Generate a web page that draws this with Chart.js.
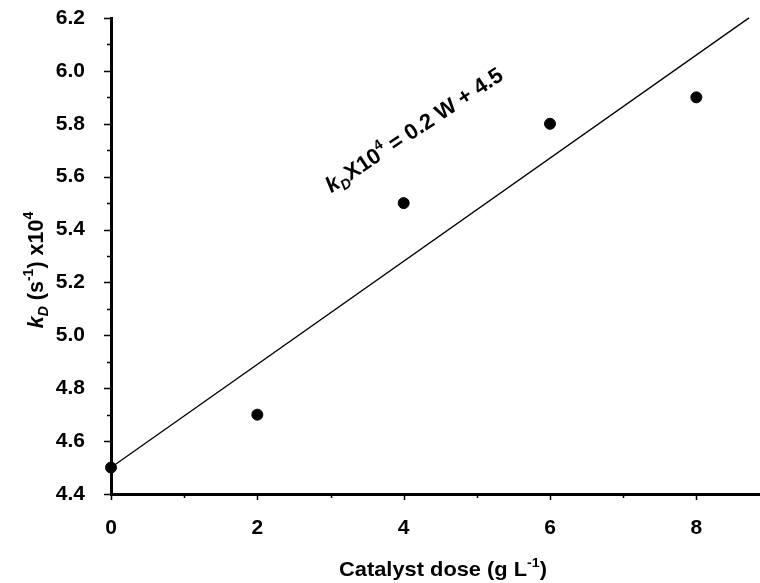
<!DOCTYPE html>
<html>
<head>
<meta charset="utf-8">
<script src="https://cdn.jsdelivr.net/npm/chart.js@4.4.1/dist/chart.umd.min.js"></script>
<style>
  html, body { margin: 0; padding: 0; background: #fff; }
  #wrap { width: 760px; height: 583px; }
</style>
</head>
<body>
<div id="wrap"><canvas id="doseChart" width="760" height="583"></canvas></div>
<script>
// data
const doses = [0, 2, 4, 6, 8];
const kD = [4.5, 4.7, 5.5, 5.8, 5.9];
// fitted line kD x10^4 = slope * W + intercept, drawn until it meets the top of the axis
const fitSlope = 0.195;
const fitIntercept = 4.5;
const fitX = [0, 8.72];
const xTicks = [0, 2, 4, 6, 8];
const xMinor = [1, 3, 5, 7];
const yTicks = [4.4, 4.6, 4.8, 5.0, 5.2, 5.4, 5.6, 5.8, 6.0, 6.2];
const yMinor = [4.5, 4.7, 4.9, 5.1, 5.3, 5.5, 5.7, 5.9, 6.1];

const FONT = '"Liberation Sans", Arial, sans-serif';

// draws text made of pieces: {t, sup, sub, it}
function richText(ctx, parts, size, align) {
  const widths = parts.map(p => {
    const s = (p.sup || p.sub) ? size * 0.65 : size;
    ctx.font = (p.it ? 'italic ' : '') + 'bold ' + s + 'px ' + FONT;
    return ctx.measureText(p.t).width;
  });
  const total = widths.reduce((a, b) => a + b, 0);
  let x = align === 'center' ? -total / 2 : 0;
  ctx.textBaseline = 'alphabetic';
  ctx.textAlign = 'left';
  parts.forEach((p, i) => {
    const s = (p.sup || p.sub) ? size * 0.65 : size;
    ctx.font = (p.it ? 'italic ' : '') + 'bold ' + s + 'px ' + FONT;
    let dy = 0;
    if (p.sup) dy = -size * 0.45;
    if (p.sub) dy = size * 0.22;
    ctx.fillText(p.t, x, dy);
    x += widths[i];
  });
}

const decor = {
  id: 'decor',
  afterDraw(chart) {
    const ctx = chart.ctx;
    const xs = chart.scales.x, ys = chart.scales.y;
    const left = chart.chartArea.left, bottom = chart.chartArea.bottom;
    ctx.save();
    ctx.strokeStyle = '#000';
    ctx.lineWidth = 1.5;
    ctx.beginPath();
    yTicks.forEach(v => { const p = Math.round(ys.getPixelForValue(v)) + 0.5; ctx.moveTo(left, p); ctx.lineTo(left - 7, p); });
    yMinor.forEach(v => { const p = Math.round(ys.getPixelForValue(v)) + 0.5; ctx.moveTo(left, p); ctx.lineTo(left - 4, p); });
    xTicks.forEach(v => { const p = Math.round(xs.getPixelForValue(v)) + 0.5; ctx.moveTo(p, bottom); ctx.lineTo(p, bottom + 6); });
    xMinor.forEach(v => { const p = Math.round(xs.getPixelForValue(v)) + 0.5; ctx.moveTo(p, bottom); ctx.lineTo(p, bottom + 4); });
    ctx.stroke();

    ctx.fillStyle = '#000';
    // x axis title
    ctx.save();
    ctx.translate(443, 576);
    ctx.scale(1.04, 1);
    richText(ctx, [{t: 'Catalyst dose (g L'}, {t: '-1', sup: true}, {t: ')'}], 21, 'center');
    ctx.restore();

    // y axis title
    ctx.save();
    ctx.translate(43, 270);
    ctx.rotate(-Math.PI / 2);
    richText(ctx, [{t: 'k', it: true}, {t: 'D', sub: true, it: true}, {t: ' (s'}, {t: '-1', sup: true}, {t: ') x10'}, {t: '4', sup: true}], 21.5, 'center');
    ctx.restore();

    // equation label
    ctx.save();
    ctx.translate(418, 136);
    ctx.rotate(-33.5 * Math.PI / 180);
    richText(ctx, [{t: 'k', it: true}, {t: 'D', sub: true, it: true}, {t: 'X10'}, {t: '4', sup: true}, {t: ' = 0.2 W + 4.5'}], 22, 'center');
    ctx.restore();
    ctx.restore();
  }
};

const ctx = document.getElementById('doseChart').getContext('2d');
new Chart(ctx, {
  type: 'scatter',
  data: {
    datasets: [{
      label: 'fit',
      type: 'line',
      data: fitX.map(x => ({x: x, y: fitSlope * x + fitIntercept})),
      borderColor: '#000',
      borderWidth: 1.3,
      pointRadius: 0,
      fill: false,
      clip: false
    }, {
      label: 'kD',
      data: doses.map((d, i) => ({x: d, y: kD[i]})),
      backgroundColor: '#000',
      borderColor: '#000',
      pointRadius: 5.5,
      clip: false
    }]
  },
  plugins: [decor],
  options: {
    responsive: false,
    devicePixelRatio: 1,
    animation: false,
    layout: { autoPadding: false, padding: { top: 18, right: 0, left: 0, bottom: 0 } },
    plugins: {
      legend: { display: false },
      tooltip: { enabled: false }
    },
    scales: {
      x: {
        type: 'linear',
        min: 0,
        max: 8.87,
        border: { display: true, color: '#000', width: 3 },
        grid: { display: false },
        afterBuildTicks: s => { s.ticks = xTicks.map(v => ({value: v})); },
        afterFit: s => { s.height = 89; s.paddingLeft = 0; s.paddingRight = 0; },
        ticks: {
          color: '#000',
          padding: 14,
          maxRotation: 0,
          font: { family: FONT, size: 21, weight: 'bold' },
          callback: v => v
        }
      },
      y: {
        min: 4.4,
        max: 6.2,
        border: { display: true, color: '#000', width: 3 },
        grid: { display: false },
        afterBuildTicks: s => { s.ticks = yTicks.map(v => ({value: v})); },
        afterFit: s => { s.width = 111; s.paddingTop = 0; s.paddingBottom = 0; },
        ticks: {
          color: '#000',
          padding: 18,
          font: { family: FONT, size: 21, weight: 'bold' },
          callback: v => v.toFixed(1)
        }
      }
    }
  }
});
</script>
</body>
</html>
